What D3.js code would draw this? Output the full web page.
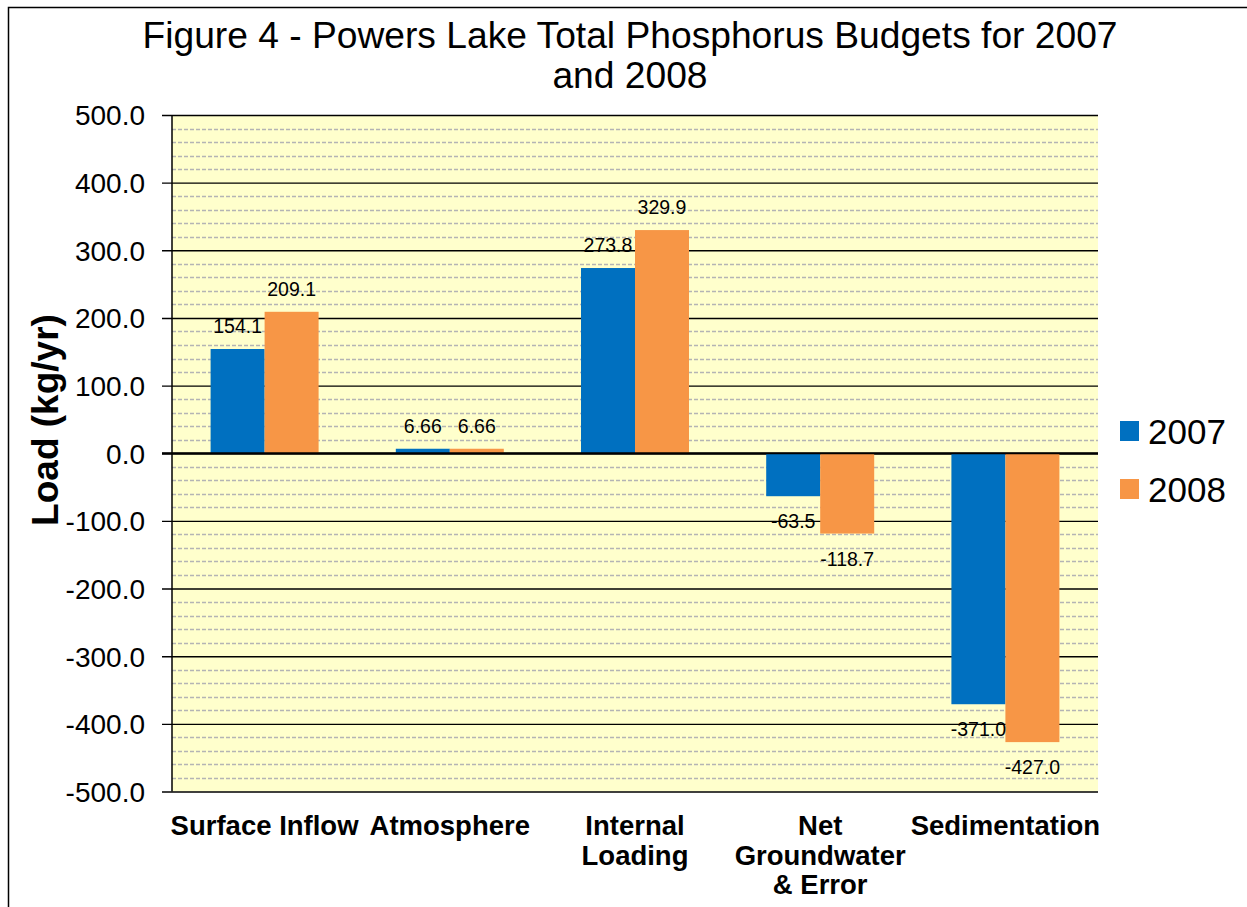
<!DOCTYPE html>
<html>
<head>
<meta charset="utf-8">
<script src="https://cdn.jsdelivr.net/npm/d3@7"></script>
<style>
  html, body { margin: 0; padding: 0; background: #fff; }
  svg { display: block; font-family: "Liberation Sans", Arial, sans-serif; }
</style>
</head>
<body>
<svg id="chart" width="1247" height="907"></svg>
<script>
// Phosphorus budget components (kg/yr)
const categories = ["Surface Inflow", "Atmosphere", "Internal Loading", "Net Groundwater & Error", "Sedimentation"];
const categoryLines = [["Surface Inflow"], ["Atmosphere"], ["Internal", "Loading"], ["Net", "Groundwater", "& Error"], ["Sedimentation"]];
const series = ["2007", "2008"];
const values2007 = [154.1, 6.66, 273.8, -63.5, -371.0];
const values2008 = [209.1, 6.66, 329.9, -118.7, -427.0];
const valueLabels2007 = ["154.1", "6.66", "273.8", "-63.5", "-371.0"];
const valueLabels2008 = ["209.1", "6.66", "329.9", "-118.7", "-427.0"];
const yTicks = [500, 400, 300, 200, 100, 0, -100, -200, -300, -400, -500];
const titleLines = ["Figure 4 - Powers Lake Total Phosphorus Budgets for 2007", "and 2008"];
const yTitle = "Load (kg/yr)";

const colors = { "2007": "#0070C0", "2008": "#F79646" };
const seriesValues = { "2007": values2007, "2008": values2008 };
const seriesLabels = { "2007": valueLabels2007, "2008": valueLabels2008 };

const svg = d3.select("#chart");
const plot = { left: 172, right: 1098, top: 115, bottom: 791.5 };

// Outer frame
svg.append("rect")
  .attr("x", 8.5).attr("y", 7.5)
  .attr("width", 1400).attr("height", 1000)
  .attr("fill", "none").attr("stroke", "#000").attr("stroke-width", 1.5);

// Scales
const x0 = d3.scaleBand().domain(categories).range([plot.left, plot.right]).padding(0);
const x1 = d3.scaleBand().domain(series).range([0, x0.bandwidth()]).paddingInner(0).paddingOuter(0.715);
const y = d3.scaleLinear().domain([-500, 500]).range([plot.bottom, plot.top]);

// Plot background
svg.append("rect")
  .attr("x", plot.left).attr("y", plot.top)
  .attr("width", plot.right - plot.left).attr("height", plot.bottom - plot.top)
  .attr("fill", "#FFFFCC");

// Minor gridlines every 20
const minorTicks = d3.range(-480, 500, 20).filter(v => v % 100 !== 0);
svg.append("g").selectAll("line").data(minorTicks).join("line")
  .attr("x1", plot.left).attr("x2", plot.right)
  .attr("y1", d => Math.round(y(d)) + 0.5).attr("y2", d => Math.round(y(d)) + 0.5)
  .attr("stroke", "#B4B4B4").attr("stroke-width", 1.4).attr("stroke-dasharray", "4,2");

// Major gridlines + y axis (plain hyphen for negatives)
const fmt = d3.format(".1f");
const yAxis = d3.axisLeft(y).tickValues(yTicks)
  .tickFormat(d => fmt(d).replace("\u2212", "-"))
  .tickSize(-(plot.right - plot.left)).tickPadding(0);
const gy = svg.append("g").attr("transform", `translate(${plot.left},0)`).call(yAxis);
gy.select(".domain").remove();
gy.selectAll(".tick line")
  .attr("x1", -10)
  .attr("stroke", "#000").attr("stroke-width", d => d === 0 ? 2.2 : 1.4);
gy.selectAll(".tick text")
  .attr("x", -27).attr("dy", "0.35em")
  .attr("font-size", 28).attr("fill", "#000")
  .attr("font-family", "'Liberation Sans', Arial, sans-serif");

// Vertical axis line
svg.append("line")
  .attr("x1", plot.left).attr("x2", plot.left)
  .attr("y1", plot.top).attr("y2", plot.bottom)
  .attr("stroke", "#000").attr("stroke-width", 1.5);

// Bars
const groups = svg.append("g").selectAll("g").data(categories).join("g")
  .attr("transform", d => `translate(${x0(d)},0)`);
groups.selectAll("rect")
  .data((c, i) => series.map(s => ({ s, v: seriesValues[s][i], label: seriesLabels[s][i] })))
  .join("rect")
  .attr("x", d => x1(d.s))
  .attr("width", x1.bandwidth())
  .attr("y", d => y(Math.max(0, d.v)))
  .attr("height", d => Math.abs(y(d.v) - y(0)))
  .attr("fill", d => colors[d.s]);

// Redraw zero line over the bars
svg.append("line")
  .attr("x1", plot.left - 10).attr("x2", plot.right)
  .attr("y1", y(0)).attr("y2", y(0))
  .attr("stroke", "#000").attr("stroke-width", 2.2);

// Value labels
groups.selectAll("text.val")
  .data((c, i) => series.map(s => ({ s, v: seriesValues[s][i], label: seriesLabels[s][i] })))
  .join("text")
  .attr("class", "val")
  .attr("x", d => x1(d.s) + x1.bandwidth() / 2)
  .attr("y", d => d.v >= 0 ? y(d.v) - 16 : y(d.v) + 32)
  .attr("text-anchor", "middle")
  .attr("font-size", 19.5)
  .attr("fill", "#000")
  .text(d => d.label);

// Category labels
const catG = svg.append("g");
categories.forEach((c, i) => {
  const cx = x0(c) + x0.bandwidth() / 2;
  const t = catG.append("text")
    .attr("text-anchor", "middle")
    .attr("font-size", 27.5).attr("font-weight", "bold").attr("fill", "#000");
  categoryLines[i].forEach((line, j) => {
    t.append("tspan").attr("x", cx).attr("y", 835 + j * 29.5).text(line);
  });
});

// Title
const title = svg.append("text")
  .attr("text-anchor", "middle").attr("font-size", 37.2).attr("fill", "#000");
titleLines.forEach((line, j) => {
  title.append("tspan").attr("x", 630).attr("y", 48 + j * 40).text(line);
});

// Y axis title
svg.append("text")
  .attr("transform", "translate(58,420) rotate(-90)")
  .attr("text-anchor", "middle")
  .attr("font-size", 37).attr("font-weight", "bold").attr("fill", "#000")
  .text(yTitle);

// Legend
const legend = svg.append("g").selectAll("g").data(series).join("g")
  .attr("transform", (d, i) => `translate(1120,${431 + i * 58})`);
legend.append("rect")
  .attr("x", 0).attr("y", -10).attr("width", 19).attr("height", 20)
  .attr("fill", d => colors[d]);
legend.append("text")
  .attr("x", 28).attr("y", 0).attr("dy", "0.36em")
  .attr("font-size", 35).attr("fill", "#000")
  .text(d => d);
</script>
</body>
</html>
